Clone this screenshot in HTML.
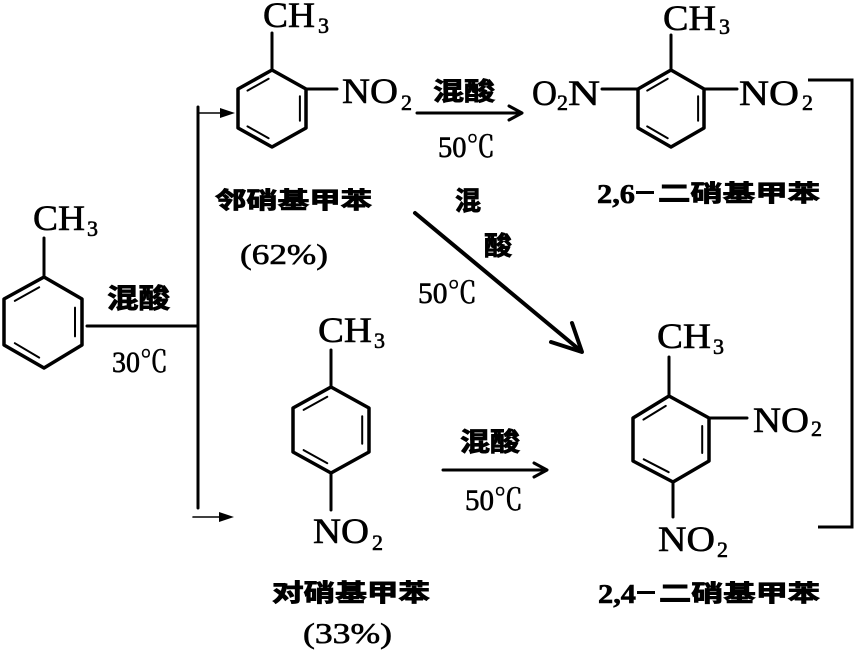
<!DOCTYPE html>
<html><head><meta charset="utf-8"><style>
html,body{margin:0;padding:0;background:#fff;}
svg{display:block;}
.s{font-family:"Liberation Serif","Noto Serif CJK SC",serif;fill:#000;stroke:#000;stroke-width:0.6px;}
.c{font-family:"Liberation Sans","Noto Sans CJK SC",sans-serif;font-weight:bold;fill:#000;stroke:#000;stroke-width:0.9px;}
.b{font-family:"Liberation Serif",serif;font-weight:bold;fill:#000;stroke:#000;stroke-width:0.6px;}
</style></head><body>
<svg width="855" height="650" viewBox="0 0 855 650" xmlns="http://www.w3.org/2000/svg">
<g stroke="#000" fill="none" stroke-linecap="round" stroke-linejoin="round">
<!-- toluene -->
<polygon points="44,277 82,299 82,345 44,368 4,345 4,299" stroke-width="3.5"/>
<line x1="44" y1="238" x2="44" y2="277" stroke-width="3"/>
<g stroke-width="2"><line x1="14.8" y1="300.9" x2="39.2" y2="287.3"/><line x1="75" y1="307.6" x2="75" y2="336.4"/><line x1="14.8" y1="343.2" x2="39.2" y2="357.6"/></g>
<line x1="87" y1="326" x2="198" y2="326" stroke-width="3"/>
<line x1="198" y1="107" x2="198" y2="508" stroke-width="3"/>
<line x1="198" y1="113" x2="226" y2="113" stroke-width="1.6"/>
<line x1="193" y1="517" x2="226" y2="517" stroke-width="1.6"/>
<!-- ortho -->
<polygon points="272,70 306,89 306,128 272,147 238,128 238,89" stroke-width="3.5"/>
<line x1="272" y1="33" x2="272" y2="70" stroke-width="3"/>
<line x1="306" y1="89" x2="337" y2="89" stroke-width="3"/>
<g stroke-width="2"><line x1="247.5" y1="90.6" x2="268.6" y2="78.8"/><line x1="299.9" y1="96.3" x2="299.9" y2="120.7"/><line x1="247.5" y1="126.4" x2="268.6" y2="138.2"/></g>
<line x1="417" y1="113" x2="521" y2="113" stroke-width="3"/>
<polyline points="509,106 522,113 509,120" stroke-width="3"/>
<!-- 2,6 -->
<polygon points="671,70 704,89 704,128 671,147 638,128 638,89" stroke-width="3.5"/>
<line x1="671" y1="35" x2="671" y2="70" stroke-width="3"/>
<line x1="602" y1="89" x2="638" y2="89" stroke-width="3"/>
<line x1="704" y1="89" x2="737" y2="89" stroke-width="3"/>
<g stroke-width="2"><line x1="647.2" y1="90.6" x2="667.7" y2="78.8"/><line x1="698.1" y1="96.3" x2="698.1" y2="120.7"/><line x1="647.2" y1="126.4" x2="667.7" y2="138.2"/></g>
<polyline points="808,80 852,80 852,527 818,527" stroke-width="3" stroke-linecap="butt" stroke-linejoin="miter"/>
<!-- diagonal -->
<line x1="415" y1="213" x2="581" y2="351" stroke-width="4"/>
<polyline points="551,342 582,352 572,323" stroke-width="4"/>
<!-- para -->
<polygon points="331,387 369,408 369,452 331,473 293,452 293,408" stroke-width="3.5"/>
<line x1="331" y1="350" x2="331" y2="387" stroke-width="3"/>
<line x1="331" y1="473" x2="331" y2="510" stroke-width="3"/>
<g stroke-width="2"><line x1="303.6" y1="409.9" x2="327.3" y2="396.8"/><line x1="362.2" y1="416.3" x2="362.2" y2="443.7"/><line x1="303.6" y1="450.1" x2="327.3" y2="463.2"/></g>
<line x1="443" y1="470" x2="546" y2="470" stroke-width="3"/>
<polyline points="534,463 547,470 534,477" stroke-width="3"/>
<!-- 2,4 -->
<polygon points="669,396 709,418 709,461 673,482 633,461 633,418" stroke-width="3.5"/>
<line x1="669" y1="357" x2="669" y2="396" stroke-width="3"/>
<line x1="709" y1="418" x2="747" y2="418" stroke-width="3"/>
<line x1="673" y1="482" x2="673" y2="517" stroke-width="3"/>
<g stroke-width="2"><line x1="643.4" y1="419.6" x2="665.8" y2="405.9"/><line x1="702.2" y1="426" x2="702.2" y2="453"/><line x1="643.7" y1="459.3" x2="668.7" y2="472.2"/></g>
</g>
<g fill="#000" stroke="none">
<polygon points="220,108 235,113 220,118"/>
<polygon points="219,512 234,517 219,522"/>
</g>
<!-- serif labels -->
<text class="s" x="33" y="230" font-size="36" textLength="52" lengthAdjust="spacingAndGlyphs">CH</text>
<text class="s" x="87" y="236" font-size="22">3</text>
<text class="s" x="263" y="27" font-size="36" textLength="52" lengthAdjust="spacingAndGlyphs">CH</text>
<text class="s" x="318" y="33" font-size="22">3</text>
<text class="s" x="342" y="103" font-size="36" textLength="56" lengthAdjust="spacingAndGlyphs">NO</text>
<text class="s" x="401" y="110" font-size="22">2</text>
<text class="s" x="663" y="30" font-size="36" textLength="53" lengthAdjust="spacingAndGlyphs">CH</text>
<text class="s" x="719" y="34" font-size="22">3</text>
<text class="s" x="532" y="105" font-size="36" textLength="25" lengthAdjust="spacingAndGlyphs">O</text>
<text class="s" x="557" y="110" font-size="22">2</text>
<text class="s" x="568" y="105" font-size="36" textLength="32" lengthAdjust="spacingAndGlyphs">N</text>
<text class="s" x="739" y="105" font-size="36" textLength="60" lengthAdjust="spacingAndGlyphs">NO</text>
<text class="s" x="802" y="110" font-size="22">2</text>
<text class="s" x="318" y="342" font-size="36" textLength="54" lengthAdjust="spacingAndGlyphs">CH</text>
<text class="s" x="374" y="348" font-size="22">3</text>
<text class="s" x="313" y="543" font-size="36" textLength="56" lengthAdjust="spacingAndGlyphs">NO</text>
<text class="s" x="372" y="550" font-size="22">2</text>
<text class="s" x="657" y="348" font-size="36" textLength="54" lengthAdjust="spacingAndGlyphs">CH</text>
<text class="s" x="713" y="354" font-size="22">3</text>
<text class="s" x="753" y="432" font-size="36" textLength="56" lengthAdjust="spacingAndGlyphs">NO</text>
<text class="s" x="811" y="436" font-size="22">2</text>
<text class="s" x="658" y="551" font-size="36" textLength="57" lengthAdjust="spacingAndGlyphs">NO</text>
<text class="s" x="717" y="557" font-size="22">2</text>
<text class="s" x="112" y="372" font-size="30" textLength="56" lengthAdjust="spacingAndGlyphs">30℃</text>
<text class="s" x="438" y="157" font-size="30" textLength="57" lengthAdjust="spacingAndGlyphs">50℃</text>
<text class="s" x="418" y="303" font-size="30" textLength="59" lengthAdjust="spacingAndGlyphs">50℃</text>
<text class="s" x="465" y="510" font-size="30" textLength="58" lengthAdjust="spacingAndGlyphs">50℃</text>
<text class="s" x="240" y="264" font-size="29" textLength="88" lengthAdjust="spacingAndGlyphs">(62%)</text>
<text class="s" x="303" y="643" font-size="29" textLength="89" lengthAdjust="spacingAndGlyphs">(33%)</text>
<!-- CJK labels -->
<text class="c" x="107" y="308" font-size="27" textLength="63" lengthAdjust="spacingAndGlyphs">混酸</text>
<text class="c" x="433" y="100" font-size="25" textLength="62" lengthAdjust="spacingAndGlyphs">混酸</text>
<text class="c" x="455" y="210" font-size="26" textLength="26" lengthAdjust="spacingAndGlyphs">混</text>
<text class="c" x="484" y="255" font-size="26" textLength="28" lengthAdjust="spacingAndGlyphs">酸</text>
<text class="c" x="460" y="451" font-size="26" textLength="60" lengthAdjust="spacingAndGlyphs">混酸</text>
<text class="c" x="215" y="208" font-size="23" textLength="157" lengthAdjust="spacingAndGlyphs">邻硝基甲苯</text>
<text class="c" x="272" y="601" font-size="24" textLength="158" lengthAdjust="spacingAndGlyphs">对硝基甲苯</text>
<text class="b" x="597" y="203" font-size="27" textLength="38" lengthAdjust="spacingAndGlyphs">2,6</text>
<rect x="636" y="191" width="18" height="3" fill="#000"/>
<text class="c" x="658" y="201" font-size="23" textLength="162" lengthAdjust="spacingAndGlyphs">二硝基甲苯</text>
<text class="b" x="598" y="603" font-size="27" textLength="38" lengthAdjust="spacingAndGlyphs">2,4</text>
<rect x="637" y="591" width="18" height="3" fill="#000"/>
<text class="c" x="659" y="601" font-size="23" textLength="161" lengthAdjust="spacingAndGlyphs">二硝基甲苯</text>
</svg>
</body></html>
